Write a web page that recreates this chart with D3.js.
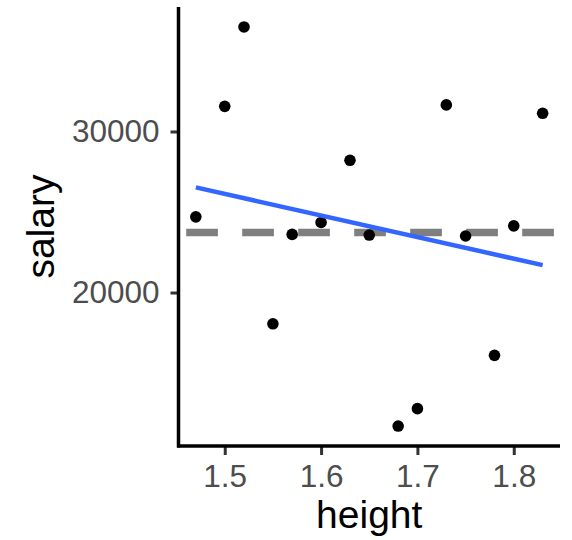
<!DOCTYPE html>
<html>
<head>
<meta charset="utf-8">
<script src="https://cdn.jsdelivr.net/npm/d3@7"></script>
<style>
  html, body { margin: 0; padding: 0; background: #fff; }
  svg { display: block; }
  text { font-family: "Liberation Sans", Arial, Helvetica, sans-serif; }
</style>
</head>
<body>
<svg id="chart" width="572" height="540"></svg>
<script>
// ---- data ----
const heights = [1.47, 1.50, 1.52, 1.55, 1.57, 1.60, 1.63, 1.65, 1.68, 1.70, 1.73, 1.75, 1.78, 1.80, 1.83];
const salaries = [24700, 31560, 36490, 18060, 23610, 24350, 28210, 23570, 11710, 12790, 31650, 23510, 16100, 24140, 31130];
const refLineValue = 23735;          // dashed horizontal reference line
const xTicks = [1.5, 1.6, 1.7, 1.8];
const yTicks = [20000, 30000];
const xTitle = "height";
const yTitle = "salary";

// ---- layout ----
const W = 572, H = 540;
const panel = { left: 178.5, right: 560, top: 7, bottom: 446 };

const svg = d3.select("#chart");

function expand(ext, f) {
  const r = ext[1] - ext[0];
  return [ext[0] - r * f, ext[1] + r * f];
}

const x = d3.scaleLinear().domain(expand(d3.extent(heights), 0.05)).range([panel.left, panel.right]);
const y = d3.scaleLinear().domain(expand(d3.extent(salaries), 0.05)).range([panel.bottom, panel.top]);

const pts = heights.map((h, i) => ({ x: h, y: salaries[i] }));

// ---- linear regression (lm) ----
const mx = d3.mean(heights), my = d3.mean(salaries);
let sxy = 0, sxx = 0;
pts.forEach(p => { sxy += (p.x - mx) * (p.y - my); sxx += (p.x - mx) ** 2; });
const slope = sxy / sxx, intercept = my - slope * mx;
const xr = d3.extent(heights);

// dashed reference line
svg.append("line")
  .attr("x1", x.range()[0]).attr("x2", x.range()[1])
  .attr("y1", y(refLineValue)).attr("y2", y(refLineValue))
  .attr("stroke", "#7F7F7F")
  .attr("stroke-width", 7.5)
  .attr("stroke-dasharray", "31.7,24.3")
  .attr("stroke-dashoffset", 48.3);

// points
svg.append("g").selectAll("circle").data(pts).join("circle")
  .attr("cx", d => x(d.x)).attr("cy", d => y(d.y))
  .attr("r", 5.8).attr("fill", "#000");

// regression line
svg.append("line")
  .attr("x1", x(xr[0])).attr("y1", y(intercept + slope * xr[0]))
  .attr("x2", x(xr[1])).attr("y2", y(intercept + slope * xr[1]))
  .attr("stroke", "#3366FF").attr("stroke-width", 4.5);

// axes
const xAxis = d3.axisBottom(x).tickValues(xTicks).tickFormat(d3.format(".1f")).tickSize(9).tickPadding(10);
const yAxis = d3.axisLeft(y).tickValues(yTicks).tickFormat(d => String(d)).tickSize(8).tickPadding(11);

const gx = svg.append("g").attr("transform", `translate(0,${panel.bottom})`).call(xAxis);
const gy = svg.append("g").attr("transform", `translate(${panel.left},0)`).call(yAxis);

[gx, gy].forEach(g => {
  g.select(".domain").remove();
  g.selectAll(".tick line").attr("stroke", "#333333").attr("stroke-width", 3);
  g.selectAll(".tick text").attr("fill", "#4D4D4D").style("font-size", "31.5px");
});
gx.selectAll(".tick text").attr("dy", "0.69em");

// axis lines
svg.append("line")
  .attr("x1", panel.left).attr("x2", panel.left)
  .attr("y1", panel.top).attr("y2", panel.bottom + 1.5)
  .attr("stroke", "#000").attr("stroke-width", 3.5);
svg.append("line")
  .attr("x1", panel.left - 1.5).attr("x2", panel.right)
  .attr("y1", panel.bottom).attr("y2", panel.bottom)
  .attr("stroke", "#000").attr("stroke-width", 3.5);

// titles
svg.append("text")
  .attr("x", (panel.left + panel.right) / 2).attr("y", 528)
  .attr("text-anchor", "middle").attr("fill", "#000")
  .style("font-size", "39px").text(xTitle);

svg.append("text")
  .attr("transform", `translate(54,${(panel.top + panel.bottom) / 2}) rotate(-90)`)
  .attr("text-anchor", "middle").attr("fill", "#000")
  .style("font-size", "39px").text(yTitle);
</script>
</body>
</html>
